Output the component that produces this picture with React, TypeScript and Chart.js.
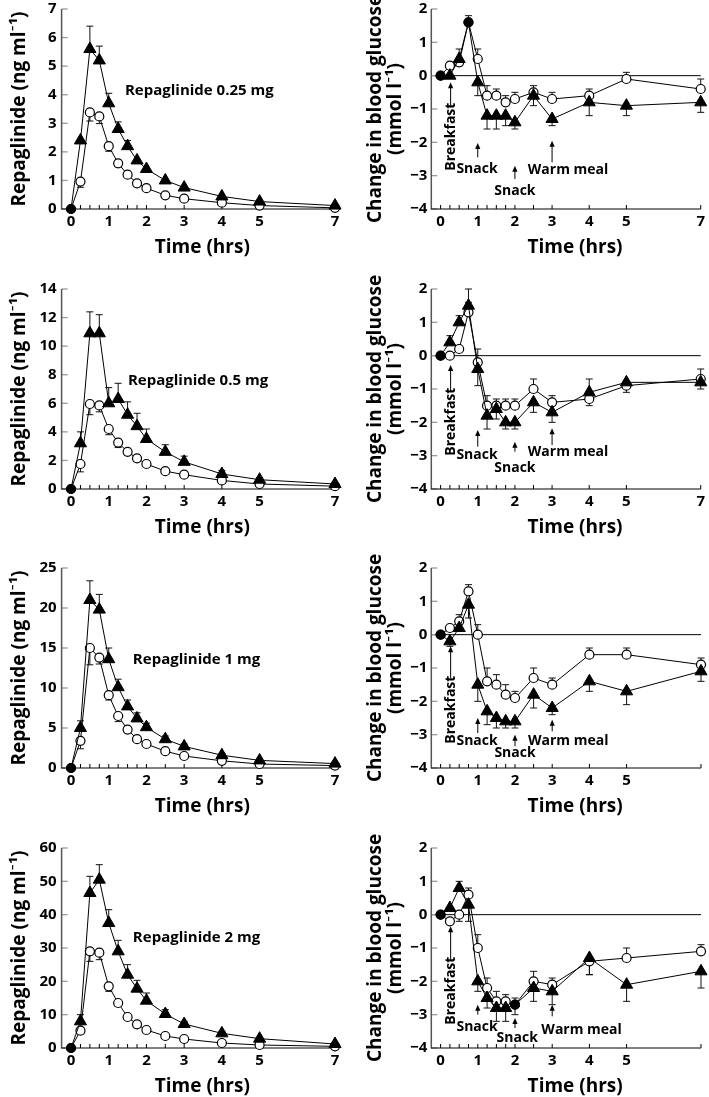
import React, { useEffect, useRef } from 'react';
import { Chart, registerables } from 'chart.js';
Chart.register(...registerables);

const FONT = '"Open Sans", Lato, "DejaVu Sans", sans-serif';

// Sample times (hours)
const times = [0, 0.25, 0.5, 0.75, 1, 1.25, 1.5, 1.75, 2, 2.5, 3, 4, 5, 7];
const xLabelsFull = [0, 1, 2, 3, 4, 5, 7];
const xLabelsShort = [0, 1, 2, 3, 4, 5];

// ---- Repaglinide 0.25 mg ----
const pk025Tri = [0, 2.4, 5.6, 5.2, 3.7, 2.8, 2.2, 1.7, 1.4, 1.0, 0.75, 0.44, 0.26, 0.12];
const pk025TriErr = [0, 0, 0.8, 0.5, 0.35, 0.25, 0.2, 0, 0, 0, 0, 0, 0, 0];
const pk025Circ = [0, 0.96, 3.38, 3.24, 2.2, 1.6, 1.2, 0.9, 0.73, 0.48, 0.36, 0.22, 0.12, 0.04];
const pk025CircErr = [0, -0.2, -0.3, -0.25, -0.18, -0.12, -0.08, 0, 0, 0, 0, 0, 0, 0];
const gl025Tri = [0, 0, 0.5, 1.6, -0.2, -1.2, -1.2, -1.2, -1.4, -0.6, -1.3, -0.8, -0.9, -0.8];
const gl025TriErr = [0, 0, 0.3, 0.2, -0.4, -0.4, -0.4, -0.3, -0.2, -0.3, -0.2, -0.4, -0.3, -0.3];
const gl025Circ = [0, 0.3, 0.4, 1.6, 0.5, -0.6, -0.6, -0.8, -0.7, -0.5, -0.7, -0.6, -0.1, -0.4];
const gl025CircErr = [0, 0.1, -0.1, 0, 0.3, 0.3, 0.2, 0.2, 0.2, 0.2, 0.2, 0.2, 0.2, 0.3];

// ---- Repaglinide 0.5 mg ----
const pk05Tri = [0, 3.2, 10.9, 10.9, 6.0, 6.3, 5.2, 4.4, 3.5, 2.6, 1.9, 1.05, 0.65, 0.35];
const pk05TriErr = [0, 0.8, 1.5, 1.3, 1.1, 1.1, 0.9, 0.9, 0.7, 0.5, 0.4, 0.25, 0.15, 0];
const pk05Circ = [0, 1.75, 5.95, 5.85, 4.2, 3.25, 2.6, 2.15, 1.75, 1.25, 1.0, 0.6, 0.35, 0.2];
const pk05CircErr = [0, -0.55, -0.75, -0.45, -0.4, -0.35, -0.2, 0, 0, 0, 0, 0, 0, 0];
const gl05Tri = [0, 0.4, 1.0, 1.5, -0.4, -1.8, -1.6, -2.0, -2.0, -1.4, -1.7, -1.1, -0.8, -0.8];
const gl05TriErr = [0, 0.2, 0.2, 0.5, -0.5, -0.4, -0.3, -0.2, -0.2, -0.3, -0.3, 0.4, -0.1, -0.2];
const gl05Circ = [0, 0, 0.2, 1.3, -0.2, -1.5, -1.5, -1.5, -1.5, -1.0, -1.4, -1.3, -0.9, -0.7];
const gl05CircErr = [0, 0, 0, 0.3, 0.4, 0.3, 0.2, 0.2, 0.2, 0.3, 0.2, -0.2, -0.2, 0.3];

// ---- Repaglinide 1 mg ----
const pk1Tri = [0, 5.0, 21.0, 19.8, 13.6, 10.1, 7.7, 6.2, 5.1, 3.6, 2.7, 1.6, 0.95, 0.55];
const pk1TriErr = [0, 0.9, 2.4, 1.9, 1.4, 1.0, 0.8, 0.7, 0.5, 0.4, 0.3, 0.2, 0, 0];
const pk1Circ = [0, 3.4, 15.0, 13.8, 9.1, 6.5, 4.8, 3.6, 3.0, 2.1, 1.5, 0.9, 0.5, 0.3];
const pk1CircErr = [0, -1.0, -2.1, -0.8, -0.6, -0.7, 0, 0, 0, 0, 0, 0, 0, 0];
const gl1Tri = [0, -0.2, 0.2, 0.9, -1.5, -2.3, -2.5, -2.6, -2.6, -1.8, -2.2, -1.4, -1.7, -1.1];
const gl1TriErr = [0, -0.15, 0.2, -0.4, -0.5, -0.4, -0.3, -0.2, -0.2, -0.4, -0.2, -0.3, -0.4, -0.3];
const gl1Circ = [0, 0.2, 0.4, 1.3, 0.0, -1.4, -1.5, -1.8, -1.9, -1.3, -1.5, -0.6, -0.6, -0.9];
const gl1CircErr = [0, 0, 0.2, 0.2, 0.3, 0.4, 0.3, 0.3, 0.2, 0.3, 0.2, 0.2, 0.2, 0.2];

// ---- Repaglinide 2 mg ----
const pk2Tri = [0, 8.0, 46.5, 50.5, 37.5, 29, 22, 17.8, 14.2, 10.2, 7.2, 4.4, 2.8, 1.2];
const pk2TriErr = [0, 2, 5, 4.5, 4, 3.3, 3, 2.5, 2.3, 1.3, 0.8, 0.6, 0, 0];
const pk2Circ = [0, 5.2, 29, 28.6, 18.5, 13.5, 9.3, 7.1, 5.4, 3.6, 2.7, 1.5, 0.9, 0.5];
const pk2CircErr = [0, -1, -3, -2.1, -1.5, -1.0, 0, 0, 0, 0, 0, 0, 0, 0];
const gl2Tri = [0, 0.2, 0.8, 0.3, -2.0, -2.5, -2.8, -2.8, -2.7, -2.2, -2.3, -1.3, -2.1, -1.7];
const gl2TriErr = [0, 0, 0.2, -0.5, -0.3, -0.3, -0.4, -0.4, -0.3, -0.4, -0.4, -0.5, -0.5, -0.5];
const gl2Circ = [0, -0.2, 0.0, 0.6, -1.0, -2.2, -2.6, -2.6, -2.7, -2.0, -2.1, -1.4, -1.3, -1.1];
const gl2CircErr = [0, 0, -0.2, 0.2, 0.4, 0.3, 0.3, 0.2, 0.2, 0.3, 0.2, -0.4, 0.3, 0.2];

type Note = { kind: 'text' | 'vtext' | 'arrow'; text?: string; x: number; y?: number; y1?: number; y2?: number };

const notes025: Note[] = [
  { kind: 'vtext', text: 'Breakfast', x: 0.27, y: -1.83 },
  { kind: 'arrow', x: 0.27, y1: -0.95, y2: -0.2 },
  { kind: 'arrow', x: 1, y1: -2.45, y2: -2.02 },
  { kind: 'text', text: 'Snack', x: 0.98, y: -2.8 },
  { kind: 'arrow', x: 2, y1: -3.1, y2: -2.7 },
  { kind: 'text', text: 'Snack', x: 2, y: -3.45 },
  { kind: 'arrow', x: 3, y1: -2.6, y2: -1.95 },
  { kind: 'text', text: 'Warm meal', x: 3.43, y: -2.82 },
];
const notes05: Note[] = [
  { kind: 'vtext', text: 'Breakfast', x: 0.27, y: -1.98 },
  { kind: 'arrow', x: 0.27, y1: -1.05, y2: -0.28 },
  { kind: 'arrow', x: 1, y1: -2.73, y2: -2.23 },
  { kind: 'text', text: 'Snack', x: 0.98, y: -2.98 },
  { kind: 'arrow', x: 2, y1: -2.88, y2: -2.58 },
  { kind: 'text', text: 'Snack', x: 2, y: -3.38 },
  { kind: 'arrow', x: 3, y1: -2.68, y2: -2.18 },
  { kind: 'text', text: 'Warm meal', x: 3.43, y: -2.88 },
];
const notes1: Note[] = [
  { kind: 'vtext', text: 'Breakfast', x: 0.27, y: -2.25 },
  { kind: 'arrow', x: 0.27, y1: -1.3, y2: -0.35 },
  { kind: 'arrow', x: 1, y1: -2.95, y2: -2.5 },
  { kind: 'text', text: 'Snack', x: 0.98, y: -3.2 },
  { kind: 'arrow', x: 2, y1: -3.35, y2: -3.0 },
  { kind: 'text', text: 'Snack', x: 2, y: -3.55 },
  { kind: 'arrow', x: 3, y1: -2.9, y2: -2.55 },
  { kind: 'text', text: 'Warm meal', x: 3.43, y: -3.2 },
];
const notes2: Note[] = [
  { kind: 'vtext', text: 'Breakfast', x: 0.27, y: -2.28 },
  { kind: 'arrow', x: 0.27, y1: -1.35, y2: -0.35 },
  { kind: 'arrow', x: 1, y1: -3.0, y2: -2.7 },
  { kind: 'text', text: 'Snack', x: 0.98, y: -3.38 },
  { kind: 'arrow', x: 2, y1: -3.4, y2: -3.1 },
  { kind: 'text', text: 'Snack', x: 2.06, y: -3.7 },
  { kind: 'arrow', x: 3, y1: -3.05, y2: -2.7 },
  { kind: 'text', text: 'Warm meal', x: 3.79, y: -3.45 },
];

interface PanelCfg {
  kind: 'pk' | 'glu';
  tri: number[]; triErr: number[]; circ: number[]; circErr: number[];
  yMin: number; yMax: number; yStep: number;
  xLabels: number[];
  filledIdx: number[];
  label?: { text: string; x: number; y: number };
  notes?: Note[];
}

const panels: PanelCfg[] = [
  { kind: 'pk', tri: pk025Tri, triErr: pk025TriErr, circ: pk025Circ, circErr: pk025CircErr, yMin: 0, yMax: 7, yStep: 1, xLabels: xLabelsFull, filledIdx: [0], label: { text: 'Repaglinide 0.25 mg', x: 1.43, y: 4.15 } },
  { kind: 'glu', tri: gl025Tri, triErr: gl025TriErr, circ: gl025Circ, circErr: gl025CircErr, yMin: -4, yMax: 2, yStep: 1, xLabels: xLabelsFull, filledIdx: [0, 3], notes: notes025 },
  { kind: 'pk', tri: pk05Tri, triErr: pk05TriErr, circ: pk05Circ, circErr: pk05CircErr, yMin: 0, yMax: 14, yStep: 2, xLabels: xLabelsFull, filledIdx: [0], label: { text: 'Repaglinide 0.5 mg', x: 1.51, y: 7.6 } },
  { kind: 'glu', tri: gl05Tri, triErr: gl05TriErr, circ: gl05Circ, circErr: gl05CircErr, yMin: -4, yMax: 2, yStep: 1, xLabels: xLabelsFull, filledIdx: [0], notes: notes05 },
  { kind: 'pk', tri: pk1Tri, triErr: pk1TriErr, circ: pk1Circ, circErr: pk1CircErr, yMin: 0, yMax: 25, yStep: 5, xLabels: xLabelsFull, filledIdx: [0], label: { text: 'Repaglinide 1 mg', x: 1.64, y: 13.5 } },
  { kind: 'glu', tri: gl1Tri, triErr: gl1TriErr, circ: gl1Circ, circErr: gl1CircErr, yMin: -4, yMax: 2, yStep: 1, xLabels: xLabelsShort, filledIdx: [0], notes: notes1 },
  { kind: 'pk', tri: pk2Tri, triErr: pk2TriErr, circ: pk2Circ, circErr: pk2CircErr, yMin: 0, yMax: 60, yStep: 10, xLabels: xLabelsFull, filledIdx: [0], label: { text: 'Repaglinide 2 mg', x: 1.64, y: 33 } },
  { kind: 'glu', tri: gl2Tri, triErr: gl2TriErr, circ: gl2Circ, circErr: gl2CircErr, yMin: -4, yMax: 2, yStep: 1, xLabels: xLabelsShort, filledIdx: [0, 8], notes: notes2 },
];

const rowTops = [9.3, 289, 568.3, 848.3];
const PAD_TOP = 14;
const PLOT_H = 200;
const X_H = 50;
const CANVAS_H = 270;

function fmt(v: number) {
  return v < 0 ? '\u2212' + Math.abs(v) : String(v);
}

function Panel({ cfg, left, top, width }: { cfg: PanelCfg; left: number; top: number; width: number }) {
  const ref = useRef<HTMLCanvasElement>(null);
  useEffect(() => {
    const isPk = cfg.kind === 'pk';
    const plotLeft = isPk ? 61.6 : 76.3;
    const plotRight = isPk ? 335 : 348.3;
    const padBottom = CANVAS_H - PAD_TOP - PLOT_H - X_H;
    const yTicks: number[] = [];
    for (let v = cfg.yMin; v <= cfg.yMax + 1e-9; v += cfg.yStep) yTicks.push(v);

    const plugin = {
      id: 'custom' + cfg.kind,
      beforeDatasetsDraw(chart: any) {
        const { ctx, chartArea: a, scales } = chart;
        const xs = scales.x, ys = scales.y;
        const line = (x1: number, y1: number, x2: number, y2: number) => {
          ctx.beginPath(); ctx.moveTo(x1, y1); ctx.lineTo(x2, y2); ctx.stroke();
        };
        ctx.save();
        if (!isPk) {
          ctx.strokeStyle = '#000'; ctx.lineWidth = 1;
          const py = ys.getPixelForValue(0);
          line(a.left, py, a.right, py);
        }
        // y ticks
        ctx.strokeStyle = '#999'; ctx.lineWidth = 1.3;
        yTicks.forEach((v) => { const py = ys.getPixelForValue(v); line(a.left, py, a.left + 6, py); });
        // y axis line
        ctx.strokeStyle = '#555'; ctx.lineWidth = 1.5;
        line(a.left, a.top, a.left, a.bottom + 0.5);
        // x axis
        ctx.strokeStyle = '#000'; ctx.lineWidth = 1;
        line(a.left, a.bottom, a.right, a.bottom);
        times.forEach((t) => { const px = xs.getPixelForValue(t); line(px, a.bottom, px, a.bottom - 4); });
        // error bars
        ctx.strokeStyle = '#111'; ctx.lineWidth = 1;
        const drawErr = (vals: number[], errs: number[]) => {
          vals.forEach((v, i) => {
            const e = errs[i];
            if (!e) return;
            const px = xs.getPixelForValue(times[i]);
            const p0 = ys.getPixelForValue(v);
            const p1 = ys.getPixelForValue(v + e);
            line(px, p0, px, p1);
            line(px - 3.5, p1, px + 3.5, p1);
          });
        };
        drawErr(cfg.tri, cfg.triErr);
        drawErr(cfg.circ, cfg.circErr);
        ctx.restore();
      },
      afterDraw(chart: any) {
        const { ctx, chartArea: a, scales } = chart;
        const xs = scales.x, ys = scales.y;
        ctx.save();
        ctx.fillStyle = '#000';
        // x title
        ctx.font = `bold 19px ${FONT}`;
        ctx.textAlign = 'center';
        ctx.textBaseline = 'middle';
        ctx.fillText('Time (hrs)', (a.left + a.right) / 2 + (isPk ? 4 : 9), a.bottom + 39);
        // y title
        const cy = (a.top + a.bottom) / 2;
        const vtext = (txt: string, x: number, y: number) => {
          ctx.save(); ctx.translate(x, y); ctx.rotate(-Math.PI / 2); ctx.fillText(txt, 0, 0); ctx.restore();
        };
        if (isPk) {
          vtext('Repaglinide (ng ml\u207B\u00B9)', 19.2, cy);
        } else {
          vtext('Change in blood glucose', 20.5, cy);
          vtext('(mmol l\u207B\u00B9)', 40.5, cy);
        }
        // panel label
        if (cfg.label) {
          ctx.font = `bold 15px ${FONT}`;
          ctx.textAlign = 'left';
          ctx.fillText(cfg.label.text, xs.getPixelForValue(cfg.label.x), ys.getPixelForValue(cfg.label.y));
        }
        // annotations
        (cfg.notes || []).forEach((n) => {
          const px = xs.getPixelForValue(n.x);
          if (n.kind === 'arrow') {
            const p1 = ys.getPixelForValue(n.y1!);
            const p2 = ys.getPixelForValue(n.y2!);
            ctx.strokeStyle = '#000'; ctx.lineWidth = 1;
            ctx.beginPath(); ctx.moveTo(px, p1); ctx.lineTo(px, p2 + 3); ctx.stroke();
            ctx.beginPath(); ctx.moveTo(px, p2); ctx.lineTo(px - 2.6, p2 + 6); ctx.lineTo(px + 2.6, p2 + 6); ctx.closePath(); ctx.fill();
          } else {
            ctx.font = `bold 14px ${FONT}`;
            ctx.textAlign = 'center';
            ctx.textBaseline = 'middle';
            const py = ys.getPixelForValue(n.y!);
            if (n.kind === 'vtext') vtext(n.text!, px, py);
            else ctx.fillText(n.text!, px, py);
          }
        });
        ctx.restore();
      },
    };

    const pts = (vals: number[]) => vals.map((v, i) => ({ x: times[i], y: v }));
    const chart = new Chart(ref.current!, {
      type: 'line',
      data: {
        datasets: [
          {
            data: pts(cfg.tri),
            borderColor: '#000',
            borderWidth: 1,
            tension: 0,
            clip: false as any,
            pointStyle: (c: any) => (cfg.filledIdx.includes(c.dataIndex) ? 'circle' : 'triangle'),
            pointRadius: (c: any) => (cfg.filledIdx.includes(c.dataIndex) ? 4.5 : 7),
            pointBackgroundColor: '#000',
            pointBorderColor: '#000',
            pointBorderWidth: 1,
          } as any,
          {
            data: pts(cfg.circ),
            borderColor: '#000',
            borderWidth: 1,
            tension: 0,
            clip: false as any,
            pointStyle: 'circle',
            pointRadius: 4.5,
            pointBackgroundColor: (c: any) => (c.dataIndex === 0 ? '#000' : '#fff'),
            pointBorderColor: '#000',
            pointBorderWidth: 1.2,
          } as any,
        ],
      },
      options: {
        responsive: false,
        animation: false,
        devicePixelRatio: 1,
        events: [],
        layout: { padding: { left: 0, right: width - plotRight, top: PAD_TOP, bottom: padBottom } },
        plugins: { legend: { display: false }, tooltip: { enabled: false } },
        scales: {
          x: {
            type: 'linear',
            min: -0.25,
            max: 7,
            grid: { display: false, drawTicks: false },
            border: { display: false },
            afterFit: (s: any) => { s.height = X_H; },
            afterBuildTicks: (s: any) => { s.ticks = cfg.xLabels.map((v) => ({ value: v })); },
            ticks: {
              autoSkip: false,
              maxRotation: 0,
              padding: 4,
              color: '#000',
              font: { family: FONT, size: 15, weight: 'bold' },
              callback: (v: any) => fmt(Number(v)),
            },
          },
          y: {
            type: 'linear',
            min: cfg.yMin,
            max: cfg.yMax,
            grid: { display: false, drawTicks: false },
            border: { display: false },
            afterFit: (s: any) => { s.width = plotLeft; },
            afterBuildTicks: (s: any) => { s.ticks = yTicks.map((v) => ({ value: v })); },
            ticks: {
              autoSkip: false,
              padding: isPk ? 5 : 4,
              color: '#000',
              font: { family: FONT, size: 15, weight: 'bold' },
              callback: (v: any) => fmt(Number(v)),
            },
          },
        },
      } as any,
      plugins: [plugin],
    });
    return () => chart.destroy();
  }, [cfg, width]);
  return (
    <canvas
      ref={ref}
      width={width}
      height={CANVAS_H}
      style={{ position: 'absolute', left, top, width, height: CANVAS_H }}
    />
  );
}

export default function App() {
  return (
    <div style={{ position: 'absolute', left: 0, top: 0, width: 709, height: 1097, background: '#fff' }}>
      {panels.map((p, i) => {
        const row = Math.floor(i / 2);
        const isLeft = i % 2 === 0;
        return (
          <Panel
            key={i}
            cfg={p}
            left={isLeft ? 0 : 355}
            top={rowTops[row] - PAD_TOP}
            width={isLeft ? 345 : 354}
          />
        );
      })}
    </div>
  );
}
